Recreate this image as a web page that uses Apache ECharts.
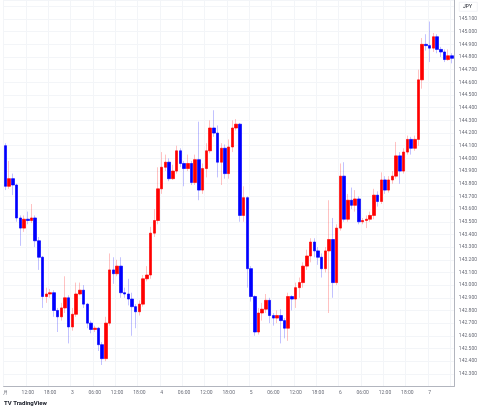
<!DOCTYPE html>
<html>
<head>
<meta charset="utf-8">
<script src="https://cdn.jsdelivr.net/npm/echarts@6/dist/echarts.min.js"></script>
<style>html,body{margin:0;padding:0;background:#fff}#main{width:480px;height:409px}</style>
</head>
<body>
<div id="main"></div>
<script>
// hourly USD/JPY candles, open of each bar = previous close
var firstOpen = 144.10;
var closes = [143.78,143.84,143.79,143.53,143.45,143.52,143.51,143.53,143.35,143.22,
  142.91,142.93,142.94,142.80,142.75,142.82,142.90,142.67,142.77,142.93,
  142.96,142.85,142.70,142.65,142.66,142.53,142.42,142.70,143.12,143.09,
  143.15,142.94,142.93,142.89,142.83,142.79,142.85,143.05,143.08,143.41,
  143.51,143.76,143.93,143.97,143.84,143.90,144.06,143.96,143.92,143.96,
  143.81,143.99,143.75,143.92,144.06,144.24,144.20,143.97,144.08,143.88,
  144.09,144.24,144.27,143.55,143.69,143.13,142.91,142.63,142.78,142.81,
  142.88,142.76,142.74,142.76,142.72,142.66,142.91,142.89,142.98,143.02,
  143.15,143.23,143.34,143.27,143.22,143.13,143.27,143.36,143.02,143.45,
  143.86,143.52,143.67,143.63,143.68,143.50,143.51,143.52,143.55,143.71,
  143.66,143.83,143.75,143.83,143.86,144.02,143.90,144.05,144.15,144.08,
  144.15,144.62,144.90,144.89,144.87,144.96,144.86,144.84,144.78,144.81,144.79];
var highs = [144.12,143.98,143.88,143.80,143.55,143.55,143.58,143.64,143.55,143.38,
  143.23,142.98,142.97,142.96,142.82,142.86,143.07,142.92,142.82,143.02,
  143.02,143.00,142.86,142.72,142.68,142.67,142.55,142.75,143.25,143.22,
  143.20,143.22,142.98,143.05,142.94,142.85,142.88,143.08,143.15,143.46,
  143.60,143.93,144.05,144.03,144.00,143.95,144.10,144.08,143.98,144.03,
  143.98,144.03,144.29,143.96,144.12,144.30,144.38,144.26,144.12,144.11,
  144.15,144.30,144.31,144.28,143.78,143.70,143.15,142.92,142.82,142.86,
  142.93,142.90,142.78,142.80,142.81,142.74,142.94,142.92,143.02,143.06,
  143.18,143.28,143.37,143.37,143.30,143.25,143.30,143.67,143.53,143.48,
  143.96,143.97,143.72,143.77,143.75,143.70,143.53,143.55,143.58,143.76,
  143.74,143.89,143.86,143.86,143.90,144.13,144.05,144.08,144.18,144.17,
  144.18,144.70,144.95,144.98,145.08,144.99,144.98,144.88,144.86,144.86,144.83];
var lows = [143.75,143.76,143.71,143.50,143.31,143.42,143.48,143.49,143.30,143.12,
  142.82,142.86,142.90,142.75,142.63,142.72,142.78,142.54,142.64,142.75,
  142.92,142.82,142.66,142.62,142.63,142.48,142.37,142.40,142.68,143.01,
  143.07,142.90,142.90,142.84,142.60,142.66,142.76,142.83,143.03,143.05,
  143.38,143.48,143.72,143.90,143.82,143.83,143.88,143.93,143.78,143.90,
  143.79,143.79,143.67,143.72,143.85,144.04,144.17,143.85,143.79,143.84,
  143.84,144.05,144.22,143.50,143.50,142.98,142.87,142.60,142.61,142.72,
  142.78,142.70,142.68,142.70,142.54,142.58,142.56,142.80,142.82,142.90,
  142.98,143.12,143.18,143.22,143.16,143.06,143.10,142.78,142.90,143.00,
  143.43,143.50,143.50,143.60,143.58,143.48,143.48,143.45,143.50,143.52,
  143.62,143.64,143.72,143.73,143.80,143.84,143.80,143.88,144.03,144.03,
  144.06,144.10,144.55,144.85,144.76,144.84,144.83,144.80,144.76,144.77,144.75];
// x labels every 6 bars
var tickLabels = ['月','12:00','18:00','3','06:00','12:00','18:00','4','06:00','12:00','18:00',
  '5','06:00','12:00','18:00','6','06:00','12:00','18:00','7'];

var cats = [], wicks = [], bodies = [];
closes.forEach(function (c, i) {
  var o = i === 0 ? firstOpen : closes[i - 1];
  cats.push(String(i));
  wicks.push([o, c, lows[i], highs[i]]);
  bodies.push([o, c, Math.min(o, c), Math.max(o, c)]);
});

var chart = echarts.init(document.getElementById('main'));
var txt = '#6a6d78';
chart.setOption({
  animation: false,
  grid: { left: 0, right: 24, top: -1, height: 387.5 },
  xAxis: {
    type: 'category', data: cats, boundaryGap: true,
    axisLine: { lineStyle: { color: '#b2b5be' } },
    axisTick: { show: false },
    axisLabel: {
      interval: function (i) { return i % 6 === 0; },
      formatter: function (v) { return tickLabels[Number(v) / 6] || ''; },
      fontSize: 5, color: txt, margin: 4, fontFamily: 'Roboto'
    },
    splitLine: { show: true, interval: function (i) { return i % 6 === 0; }, lineStyle: { color: '#f3f5f8' } }
  },
  yAxis: {
    type: 'value', position: 'right', min: 142.2, max: 145.25, interval: 0.1,
    axisLine: { show: true, lineStyle: { color: '#b2b5be' } },
    axisTick: { show: false },
    axisLabel: {
      showMinLabel: false, showMaxLabel: false,
      formatter: function (v) { return v.toFixed(3); },
      fontSize: 5, color: txt, margin: 5, fontFamily: 'Roboto'
    },
    splitLine: { lineStyle: { color: '#f3f5f8' } }
  },
  series: [{
    type: 'candlestick', data: wicks, barWidth: 3, silent: true,
    itemStyle: { color: 'rgba(255,0,0,0.3)', color0: 'rgba(0,0,255,0.3)',
      borderColor: 'rgba(255,0,0,0.3)', borderColor0: 'rgba(0,0,255,0.3)', borderWidth: 0.8 }
  }, {
    type: 'candlestick', data: bodies, barWidth: 3, silent: true,
    itemStyle: { color: '#ff0000', color0: '#0000ff', borderColor: '#ff0000', borderColor0: '#0000ff', borderWidth: 0.5 }
  }],
  graphic: [
    { type: 'rect', left: 457, top: 0, z: 100, shape: { width: 23, height: 13 }, style: { fill: '#fff' } },
    { type: 'rect', left: 459, top: 2, z: 101, shape: { width: 18, height: 9 }, style: { fill: '#fff', stroke: '#e0e3eb', lineWidth: 0.5 } },
    { type: 'text', left: 463, top: 4, z: 102, style: { text: 'JPY', fontSize: 5, fill: '#131722', fontFamily: 'Roboto' } },
    { type: 'text', left: 4, top: 400, style: { text: 'TV TradingView', fontSize: 6, fill: '#131722', fontWeight: 'bold', fontFamily: 'Roboto' } }
  ]
});
</script>
</body>
</html>
